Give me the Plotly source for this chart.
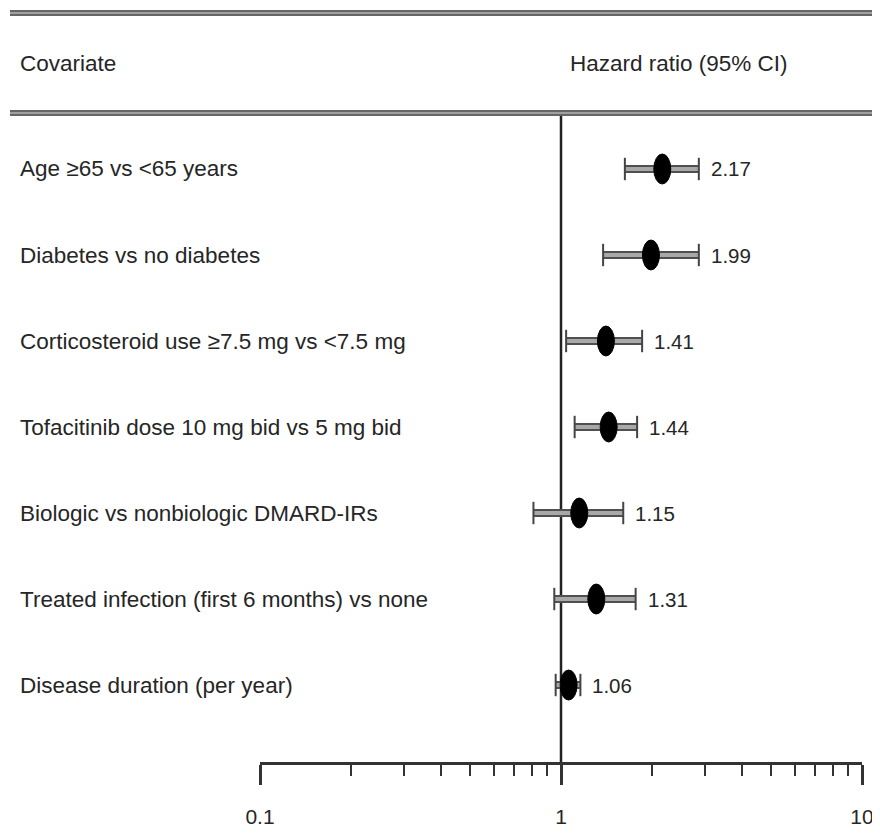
import math
import plotly.graph_objects as go

covariates = [
    "Age \u226565 vs <65 years",
    "Diabetes vs no diabetes",
    "Corticosteroid use \u22657.5 mg vs <7.5 mg",
    "Tofacitinib dose 10 mg bid vs 5 mg bid",
    "Biologic vs nonbiologic DMARD-IRs",
    "Treated infection (first 6 months) vs none",
    "Disease duration (per year)",
]
hr = [2.17, 1.99, 1.41, 1.44, 1.15, 1.31, 1.06]
ci_low = [1.63, 1.38, 1.04, 1.11, 0.81, 0.95, 0.96]
ci_high = [2.87, 2.87, 1.86, 1.79, 1.61, 1.77, 1.16]
tick_vals = [0.1, 1, 10]
tick_text = ["0.1", "1", "10"]
ref_value = 1

FONT = "Liberation Sans, Arial, sans-serif"
TXT = "#262626"

rows = list(range(len(covariates)))
y_top, y_bot = -0.651, 6.895

fig = go.Figure()

# reference line at HR = 1
fig.add_trace(go.Scatter(x=[ref_value, ref_value], y=[y_bot, y_top], mode="lines",
                         line=dict(color="#222222", width=2.5), hoverinfo="skip",
                         showlegend=False))

for i in rows:
    fig.add_trace(go.Scatter(x=[ci_low[i], ci_high[i]], y=[i, i], mode="lines",
                             line=dict(color="#505050", width=8), hoverinfo="skip",
                             showlegend=False))
    fig.add_trace(go.Scatter(x=[ci_low[i], ci_high[i]], y=[i, i], mode="lines+markers",
                             line=dict(color="#a8a8a8", width=4),
                             marker=dict(symbol="line-ns", size=16,
                                         line=dict(color="#444444", width=2)),
                             hoverinfo="skip", showlegend=False))
    # point estimate as an ellipse (anchored on a linear log10 overlay axis)
    fig.add_shape(type="circle", xref="x2", yref="y", xsizemode="pixel", ysizemode="pixel",
                  xanchor=math.log10(hr[i]), yanchor=i, x0=-8.5, x1=8.5, y0=-15, y1=15,
                  fillcolor="black", line=dict(color="black", width=1))
    fig.add_annotation(x=math.log10(ci_high[i]), y=i, xref="x", yref="y",
                       text=f"{hr[i]:.2f}", showarrow=False, xanchor="left",
                       yanchor="middle", xshift=10,
                       font=dict(family=FONT, size=20.5, color=TXT))
    fig.add_annotation(x=-242 / 602, y=i, xref="paper", yref="y", text=covariates[i],
                       showarrow=False, xanchor="left", yanchor="middle",
                       font=dict(family=FONT, size=22.5, color=TXT))

# invisible trace to activate the overlay axis
fig.add_trace(go.Scatter(x=[math.log10(v) for v in hr], y=rows, xaxis="x2", mode="markers",
                         marker=dict(size=1, opacity=0), hoverinfo="skip",
                         showlegend=False))

# header
fig.add_annotation(x=-242 / 602, y=1.077, xref="paper", yref="paper", text="Covariate",
                   showarrow=False, xanchor="left", yanchor="middle",
                   font=dict(family=FONT, size=22.5, color=TXT))
fig.add_annotation(x=308 / 602, y=1.077, xref="paper", yref="paper",
                   text="Hazard ratio (95% CI)", showarrow=False, xanchor="left",
                   yanchor="middle", font=dict(family=FONT, size=22.5, color=TXT))

for yp in [1 + 100 / 649, 1.0]:
    fig.add_shape(type="line", xref="paper", yref="paper", x0=-250 / 602, x1=620 / 602,
                  y0=yp, y1=yp, line=dict(color="#666666", width=6))
    fig.add_shape(type="line", xref="paper", yref="paper", x0=-250 / 602, x1=620 / 602,
                  y0=yp, y1=yp, line=dict(color="#a0a0a0", width=2))

minor_vals = [m * 10 ** e for e in (-1, 0) for m in range(2, 10)]

fig.update_layout(
    xaxis=dict(type="log", range=[-1, 1], tickvals=tick_vals, ticktext=tick_text,
               showgrid=False, zeroline=False, showline=True, linecolor="#333333",
               linewidth=3, ticks="outside", ticklen=20, tickwidth=3,
               tickcolor="#333333", ticklabelstandoff=14,
               tickfont=dict(family=FONT, size=21, color=TXT),
               minor=dict(tickvals=minor_vals, ticks="outside", ticklen=11,
                          tickwidth=2, tickcolor="#333333", showgrid=False)),
    xaxis2=dict(type="linear", range=[-1, 1], overlaying="x", visible=False,
                showgrid=False, zeroline=False),
    yaxis=dict(range=[y_bot, y_top], visible=False, showgrid=False, zeroline=False),
    width=880, height=834, margin=dict(l=252, r=26, t=105, b=80),
    plot_bgcolor="white", paper_bgcolor="white", showlegend=False,
)

fig.write_html("out.html")
